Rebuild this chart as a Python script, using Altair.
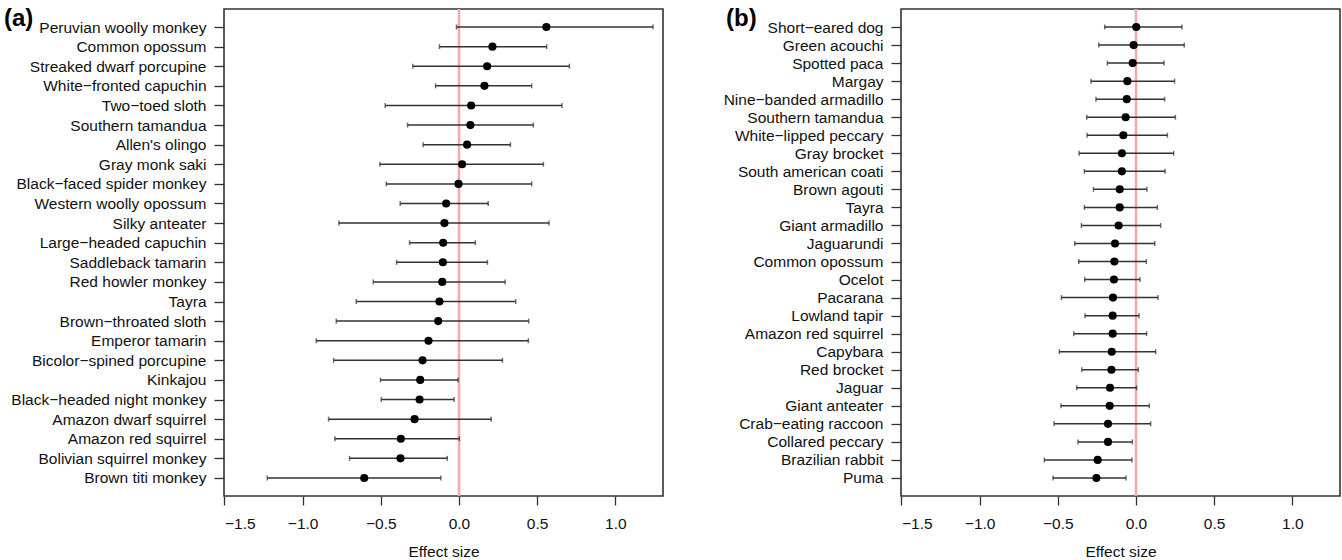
import altair as alt
import pandas as pd

M = "\u2212"

species_a = [
    "Peruvian woolly monkey", "Common opossum", "Streaked dwarf porcupine",
    f"White{M}fronted capuchin", f"Two{M}toed sloth", "Southern tamandua",
    "Allen's olingo", "Gray monk saki", f"Black{M}faced spider monkey",
    "Western woolly opossum", "Silky anteater", f"Large{M}headed capuchin",
    "Saddleback tamarin", "Red howler monkey", "Tayra", f"Brown{M}throated sloth",
    "Emperor tamarin", f"Bicolor{M}spined porcupine", "Kinkajou",
    f"Black{M}headed night monkey", "Amazon dwarf squirrel", "Amazon red squirrel",
    "Bolivian squirrel monkey", "Brown titi monkey",
]
est_a = [0.559, 0.214, 0.180, 0.163, 0.078, 0.073, 0.052, 0.020, -0.003, -0.082,
         -0.093, -0.101, -0.103, -0.107, -0.125, -0.133, -0.195, -0.233, -0.248,
         -0.252, -0.284, -0.372, -0.374, -0.606]
lo_a = [-0.016, -0.125, -0.295, -0.150, -0.472, -0.329, -0.229, -0.506, -0.465, -0.376,
        -0.768, -0.316, -0.399, -0.548, -0.657, -0.785, -0.913, -0.802, -0.502,
        -0.497, -0.834, -0.794, -0.700, -1.226]
hi_a = [1.241, 0.561, 0.706, 0.465, 0.659, 0.476, 0.329, 0.540, 0.465, 0.187,
        0.576, 0.105, 0.182, 0.295, 0.363, 0.446, 0.444, 0.278, -0.005,
        -0.031, 0.206, 0.003, -0.075, -0.116]

species_b = [
    f"Short{M}eared dog", "Green acouchi", "Spotted paca", "Margay",
    f"Nine{M}banded armadillo", "Southern tamandua", f"White{M}lipped peccary",
    "Gray brocket", "South american coati", "Brown agouti", "Tayra",
    "Giant armadillo", "Jaguarundi", "Common opossum", "Ocelot", "Pacarana",
    "Lowland tapir", "Amazon red squirrel", "Capybara", "Red brocket", "Jaguar",
    "Giant anteater", f"Crab{M}eating raccoon", "Collared peccary",
    "Brazilian rabbit", "Puma",
]
est_b = [0.002, -0.015, -0.021, -0.055, -0.059, -0.066, -0.081, -0.090, -0.090, -0.104,
         -0.104, -0.111, -0.134, -0.138, -0.141, -0.147, -0.149, -0.149, -0.155,
         -0.157, -0.166, -0.168, -0.179, -0.179, -0.245, -0.253]
lo_b = [-0.200, -0.238, -0.183, -0.288, -0.256, -0.315, -0.313, -0.364, -0.330, -0.272,
        -0.330, -0.349, -0.392, -0.366, -0.328, -0.477, -0.326, -0.398, -0.490,
        -0.347, -0.379, -0.480, -0.524, -0.371, -0.586, -0.531]
hi_b = [0.294, 0.309, 0.179, 0.247, 0.183, 0.252, 0.201, 0.241, 0.186, 0.070,
        0.137, 0.158, 0.120, 0.066, 0.026, 0.141, 0.019, 0.068, 0.126, 0.015,
        0.004, 0.085, 0.094, -0.023, -0.026, -0.064]

x_ticks = [-1.5, -1.0, -0.5, 0.0, 0.5, 1.0]
x_domain = [-1.503, 1.305]

FONT = "Liberation Sans"
LINE = "#333333"
FS = 15.5


def panel(names, est, lo, hi, tag, pad, tag_x):
    df = pd.DataFrame({"species": names, "est": est, "lo": lo, "hi": hi})
    x_scale = alt.Scale(domain=x_domain, nice=False, zero=False)
    y = alt.Y(
        "species:N", sort=names,
        scale=alt.Scale(type="point", padding=pad),
        axis=alt.Axis(title=None, domain=False, grid=False, tickSize=10,
                      tickColor=LINE, tickWidth=1.3, labelPadding=8,
                      labelFontSize=FS, labelFont=FONT, labelColor="#111",
                      labelLimit=400),
    )
    x_axis = alt.Axis(values=x_ticks, title="Effect size", domain=False, grid=False,
                      tickSize=9, tickColor=LINE, tickWidth=1.3,
                      labelFontSize=FS, labelFont=FONT, labelColor="#111",
                      labelPadding=11, titleFontSize=FS, titleFont=FONT,
                      titleFontWeight="normal", titleColor="#111", titlePadding=13,
                      labelExpr=f"replace(format(datum.value, '.1f'), '-', '{M}')")
    base = alt.Chart(df)
    zero = alt.Chart(pd.DataFrame({"z": [0.0]})).mark_rule(
        color="#f7a9a9", strokeWidth=2.5
    ).encode(x=alt.X("z:Q", scale=x_scale, axis=x_axis))
    bars = base.mark_rule(color=LINE, strokeWidth=1.5).encode(
        x=alt.X("lo:Q", scale=x_scale, axis=x_axis), x2="hi:Q", y=y)
    cap_lo = base.mark_tick(color=LINE, thickness=1.5, size=5, orient="vertical").encode(
        x=alt.X("lo:Q", scale=x_scale), y=y)
    cap_hi = base.mark_tick(color=LINE, thickness=1.5, size=5, orient="vertical").encode(
        x=alt.X("hi:Q", scale=x_scale), y=y)
    pts = base.mark_circle(color="black", size=66, opacity=1).encode(
        x=alt.X("est:Q", scale=x_scale), y=y)
    label = alt.Chart(pd.DataFrame({"t": [tag]})).mark_text(
        fontSize=24, fontWeight="bold", font=FONT, align="left", baseline="alphabetic",
        color="black"
    ).encode(x=alt.value(tag_x), y=alt.value(17), text="t:N")
    return alt.layer(zero, bars, cap_lo, cap_hi, pts, label).properties(
        width=439, height=487,
        view=alt.ViewBackground(stroke=LINE, strokeWidth=1.6, fill="white"),
    )


left = panel(species_a, est_a, lo_a, hi_a, "(a)", 0.92, -220)
right = panel(species_b, est_b, lo_b, hi_b, "(b)", 1.0, -175)

chart = alt.hconcat(left, right, spacing=238, bounds="flush").resolve_scale(
    y="independent"
).properties(
    padding={"left": 3, "top": 6, "right": 0, "bottom": 0}
).configure_view(stroke=LINE, strokeWidth=1.6).configure(background="white")

chart.save("out.html", embed_options={"renderer": "svg", "actions": False})
